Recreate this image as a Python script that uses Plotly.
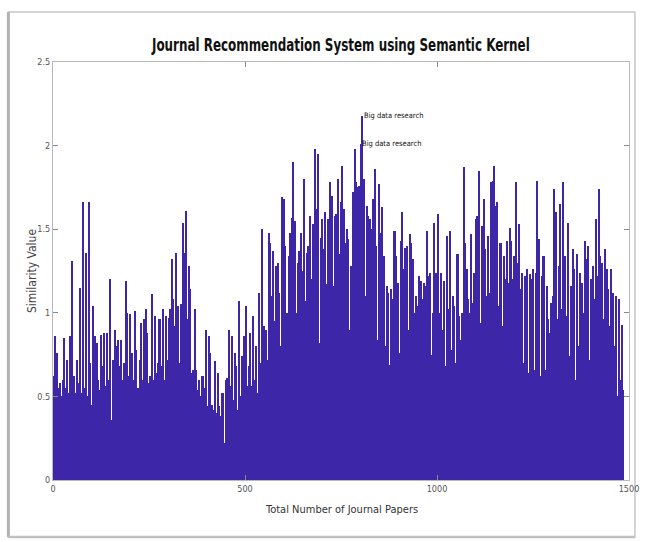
import plotly.graph_objects as go

# Similarity score of each block of journal papers (4 papers per bar)
papers_per_bar = 4
similarity = [
    0.62, 0.86, 0.76, 0.55, 0.58, 0.50, 0.60, 0.85, 0.55, 0.72,
    0.52, 0.86, 1.31, 0.62, 0.52, 0.72, 0.58, 1.15, 0.52, 1.66,
    0.55, 1.36, 0.50, 1.66, 0.70, 0.45, 1.04, 0.86, 0.82, 0.60,
    0.54, 0.87, 0.68, 0.88, 0.56, 0.88, 0.60, 1.20, 0.36, 0.72,
    0.90, 0.80, 0.84, 0.68, 0.84, 0.60, 0.70, 1.19, 1.00, 0.62,
    0.99, 0.76, 0.60, 1.01, 0.78, 0.55, 0.72, 0.94, 0.60, 0.96,
    1.02, 0.88, 0.58, 0.62, 1.11, 0.60, 0.98, 0.64, 0.70, 0.96,
    0.68, 1.02, 0.60, 0.98, 0.72, 0.97, 1.02, 1.32, 1.08, 0.92,
    1.36, 1.04, 0.70, 1.05, 1.54, 1.36, 1.61, 0.96, 1.28, 1.14,
    0.64, 0.66, 1.02, 0.66, 0.54, 0.60, 0.50, 0.62, 0.55, 0.90,
    0.44, 0.86, 0.76, 0.45, 0.42, 0.71, 0.40, 0.64, 0.44, 0.38,
    0.52, 0.22, 0.60, 0.61, 0.90, 0.56, 0.86, 0.48, 0.76, 0.68,
    0.42, 1.07, 0.50, 0.74, 0.86, 1.04, 0.56, 0.68, 0.88, 0.56,
    0.98, 0.60, 0.80, 0.52, 1.12, 0.70, 1.50, 0.92, 0.90, 0.72,
    1.48, 1.42, 1.10, 1.37, 0.95, 1.28, 1.30, 1.12, 0.80, 1.69,
    1.68, 1.40, 1.00, 1.34, 1.48, 1.57, 1.90, 1.55, 1.00, 1.30,
    1.37, 1.48, 1.25, 1.80, 1.07, 1.36, 1.40, 1.58, 1.20, 1.53,
    1.98, 1.62, 1.95, 0.82, 1.45, 1.56, 1.38, 1.60, 1.17, 1.56,
    1.78, 1.70, 1.16, 1.58, 1.59, 1.80, 1.35, 1.66, 1.88, 1.62,
    1.42, 1.50, 1.44, 0.90, 1.28, 1.72, 1.98, 1.78, 1.75, 1.76,
    2.01, 2.18, 1.80, 1.10, 1.64, 1.58, 1.56, 1.50, 1.68, 1.86,
    1.40, 0.84, 1.77, 1.48, 1.63, 1.34, 0.80, 1.16, 1.12, 0.69,
    1.14, 1.08, 1.49, 1.34, 1.18, 0.76, 1.43, 1.60, 1.26, 1.39,
    1.40, 0.90, 1.47, 1.42, 1.32, 1.00, 1.10, 1.04, 1.22, 1.19,
    1.08, 1.18, 1.16, 1.49, 1.22, 1.24, 0.75, 1.00, 1.54, 1.24,
    1.59, 1.00, 1.24, 0.90, 1.19, 0.68, 1.46, 1.02, 1.49, 0.78,
    1.10, 1.04, 0.70, 1.35, 0.98, 0.84, 1.00, 1.87, 1.42, 1.26,
    1.08, 1.00, 1.47, 1.06, 1.24, 1.56, 1.58, 1.85, 0.94, 1.52,
    1.68, 1.38, 1.10, 1.46, 1.12, 1.78, 1.79, 1.88, 1.64, 1.66,
    1.04, 1.42, 0.92, 1.34, 1.20, 1.43, 1.18, 1.51, 1.43, 1.20,
    1.34, 1.78, 1.30, 1.53, 1.14, 1.24, 0.70, 1.22, 1.26, 0.64,
    1.23, 1.20, 1.26, 0.66, 1.24, 1.79, 1.44, 0.62, 1.22, 1.34,
    0.66, 1.16, 0.96, 0.88, 1.06, 1.10, 1.74, 1.60, 0.96, 1.28,
    1.65, 1.02, 1.78, 1.34, 0.98, 1.54, 0.74, 1.16, 1.38, 1.26,
    0.60, 1.35, 0.80, 1.24, 1.18, 1.00, 1.43, 1.32, 1.40, 0.72,
    1.20, 1.28, 1.08, 1.56, 1.22, 1.74, 1.34, 1.30, 0.96, 1.38,
    1.26, 1.14, 0.92, 1.26, 1.12, 0.80, 1.10, 0.50, 1.08, 0.60,
    0.93, 0.54,
]

# Bars carrying the "Big data research" labels
labelled_bars = [201, 200]
label_text = "Big data research"

x_ticks = [0, 500, 1000, 1500]
y_ticks = [0, 0.5, 1, 1.5, 2, 2.5]
y_tick_text = ["0", "0.5", "1", "1.5", "2", "2.5"]

bar_centres = [i * papers_per_bar + papers_per_bar / 2 for i in range(len(similarity))]

narrow = "Liberation Sans Narrow, DejaVu Sans Condensed, Arial Narrow, Liberation Sans, sans-serif"

fig = go.Figure(
    go.Bar(
        x=bar_centres,
        y=similarity,
        width=papers_per_bar,
        marker=dict(color="#3E26A8", line=dict(width=0)),
        hoverinfo="x+y",
    )
)

axis_common = dict(
    showgrid=False,
    zeroline=False,
    showline=True,
    linecolor="#b9b9b9",
    linewidth=1,
    mirror="ticks",
    ticks="inside",
    ticklen=5,
    tickcolor="#8a8a8a",
    tickfont=dict(family=narrow, size=9, color="#555555"),
)

fig.update_layout(
    width=651,
    height=542,
    margin=dict(l=53, r=17, t=62, b=62),
    paper_bgcolor="white",
    plot_bgcolor="white",
    bargap=0,
    showlegend=False,
    title=dict(
        text="<b>Journal Recommendation System using Semantic Kernel</b>",
        x=0.5,
        xref="paper",
        y=1 - 45 / 542,
        yref="container",
        yanchor="middle",
        font=dict(family=narrow, size=17, color="#111111"),
    ),
    xaxis=dict(range=[0, 1500], tickvals=x_ticks, **axis_common),
    yaxis=dict(range=[0, 2.5], tickvals=y_ticks, ticktext=y_tick_text, **axis_common),
)

# Axis titles
fig.add_annotation(
    text="Total Number of Journal Papers",
    xref="paper", yref="paper", x=0.5, y=0,
    xanchor="center", yanchor="top", yshift=-21,
    showarrow=False,
    font=dict(family=narrow, size=11, color="#333333"),
)
fig.add_annotation(
    text="Similarity Value",
    xref="paper", yref="paper", x=0, y=0.5,
    xanchor="center", yanchor="middle", xshift=-21,
    textangle=-90, showarrow=False,
    font=dict(family=narrow, size=12, color="#444444"),
)

# Text labels on the top-scoring bars
for b in labelled_bars:
    fig.add_annotation(
        text=label_text,
        x=bar_centres[b], y=similarity[b],
        xanchor="left", yanchor="middle", xshift=-1,
        showarrow=False,
        font=dict(family=narrow, size=7.5, color="#111111"),
    )

# Figure frame with a soft shadow
frame = dict(x0=-45 / 581, x1=587 / 581, y0=-57 / 418, y1=468 / 418)
fig.add_shape(type="rect", xref="paper", yref="paper", **frame,
              line=dict(color="#c6c6c6", width=1.5), layer="below")
fig.add_shape(type="line", xref="paper", yref="paper",
              x0=frame["x0"], x1=frame["x0"], y0=frame["y0"], y1=frame["y1"],
              line=dict(color="#b3b3b3", width=3), layer="below")
fig.add_shape(type="line", xref="paper", yref="paper",
              x0=frame["x0"], x1=frame["x1"], y0=frame["y0"], y1=frame["y0"],
              line=dict(color="#c0c0c0", width=2.5), layer="below")

# Condense the bold title horizontally around its centre
condense_title = """
var root = document.getElementById('{plot_id}');
root.querySelectorAll('text.gtitle').forEach(function (t) {
  var box = t.getBBox();
  var cx = box.x + box.width / 2;
  t.setAttribute('transform',
    'translate(' + cx + ' 0) scale(0.78 1) translate(' + (-cx) + ' 0)');
});
"""

fig.write_html("out.html", post_script=condense_title)
